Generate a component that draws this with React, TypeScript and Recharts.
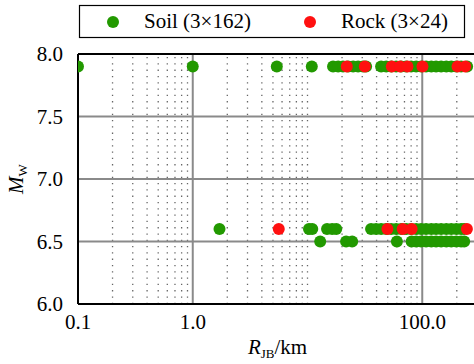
import * as React from "react";
import {
  ScatterChart,
  Scatter,
  XAxis,
  YAxis,
  ReferenceLine,
} from "recharts";

const FONT = "Liberation Serif, Times New Roman, serif";
const FS = 21;
const GREEN = "#229900";
const RED = "#ff1010";

// R_JB (km), grouped by magnitude row
const soilAt79 = [
  0.1, 1.0, 5.4, 10.9, 16.7, 18.5, 20.4, 22.6, 25.0, 27.6, 30.5, 32.4, 43.8,
  48.5, 53.6, 59.2, 65.5, 72.4, 80.0, 88.5, 97.8, 108, 120, 132, 146, 162,
  179, 198, 218, 246,
];
const rockAt79 = [22.0, 31.6, 54.3, 64.2, 74.3, 100.4, 203, 237];
const soilAt66 = [
  1.71, 10.3, 11.0, 14.8, 16.4, 17.8, 35.8, 39.6, 43.8, 48.5, 53.6, 59.2,
  65.5, 72.4, 80.0, 88.5, 97.8, 108, 120, 132, 146, 162, 179, 198, 218, 232,
];
const rockAt66 = [5.62, 49.7, 67.5, 80.8, 245];
const soilAt65 = [
  12.9, 21.7, 24.5, 60.1, 80.8, 88.5, 97.8, 108, 120, 132, 146, 162, 179, 198,
  218, 232,
];

const xTicks = [0.1, 1, 100];
const xMajor = [1, 100];
const xMinor = [
  0.2, 0.3, 0.4, 0.5, 0.6, 0.7, 0.8, 0.9, 2, 3, 4, 5, 6, 7, 8, 9, 10, 20, 30,
  40, 50, 60, 70, 80, 90, 200,
];
const yTicks = [6.0, 6.5, 7.0, 7.5, 8.0];
const yGrid = [6.5, 7.0, 7.5];

const soil = [
  ...soilAt79.map((x) => ({ x, y: 7.9 })),
  ...soilAt66.map((x) => ({ x, y: 6.6 })),
  ...soilAt65.map((x) => ({ x, y: 6.5 })),
];
const rock = [
  ...rockAt79.map((x) => ({ x, y: 7.9 })),
  ...rockAt66.map((x) => ({ x, y: 6.6 })),
];

const dot = (color: string) => (p: any) => (
  <circle cx={p.cx} cy={p.cy} r={6} fill={color} />
);

const XLabel = (props: any) => {
  const vb = props.viewBox;
  return (
    <text
      x={vb.x + vb.width / 2}
      y={354}
      textAnchor="middle"
      fontFamily={FONT}
      fontSize={FS}
      fill="#000"
    >
      <tspan fontStyle="italic">R</tspan>
      <tspan fontSize={13} dy={4}>
        JB
      </tspan>
      <tspan dy={-4}>/km</tspan>
    </text>
  );
};

const YLabel = () => (
  <text
    x={23}
    y={179}
    transform="rotate(-90, 23, 179)"
    textAnchor="middle"
    fontFamily={FONT}
    fontSize={FS}
    fill="#000"
  >
    <tspan fontStyle="italic">M</tspan>
    <tspan fontSize={13} dy={4}>
      W
    </tspan>
  </text>
);

export default function App() {
  return (
    <div
      style={{
        position: "absolute",
        left: 0,
        top: 0,
        width: 474,
        height: 364,
        overflow: "hidden",
        background: "#fff",
        fontFamily: FONT,
      }}
    >
      <ScatterChart
        width={478}
        height={364}
        margin={{ top: 54, right: 1, bottom: 0, left: 0 }}
      >
        {xMinor.map((v) => (
          <ReferenceLine
            key={"m" + v}
            x={v}
            stroke="#666"
            strokeWidth={1.3}
            strokeDasharray="1.3 5"
          />
        ))}
        {yGrid.map((v) => (
          <ReferenceLine key={"y" + v} y={v} stroke="#8a8a8a" strokeWidth={2} />
        ))}
        {xMajor.map((v) => (
          <ReferenceLine key={"M" + v} x={v} stroke="#8a8a8a" strokeWidth={2} />
        ))}
        <ReferenceLine y={8} stroke="#000" strokeWidth={2} />
        <XAxis
          type="number"
          dataKey="x"
          scale="log"
          domain={[0.1, 300]}
          allowDataOverflow
          ticks={xTicks}
          interval={0}
          height={60}
          tickSize={0}
          tickMargin={10}
          axisLine={{ stroke: "#000", strokeWidth: 2 }}
          tick={{ fill: "#000", fontSize: FS, fontFamily: FONT }}
          tickFormatter={(v: number) => (v < 1 ? String(v) : v.toFixed(1))}
          label={<XLabel />}
        />
        <YAxis
          type="number"
          dataKey="y"
          domain={[6, 8]}
          ticks={yTicks}
          interval={0}
          width={78}
          tickSize={0}
          tickMargin={15}
          axisLine={{ stroke: "#000", strokeWidth: 2 }}
          tick={{ fill: "#000", fontSize: FS, fontFamily: FONT }}
          tickFormatter={(v: number) => v.toFixed(1)}
          label={<YLabel />}
        />
        <Scatter
          data={soil}
          fill={GREEN}
          shape={dot(GREEN)}
          isAnimationActive={false}
        />
        <Scatter
          data={rock}
          fill={RED}
          shape={dot(RED)}
          isAnimationActive={false}
        />
      </ScatterChart>
      <svg
        width={474}
        height={42}
        style={{ position: "absolute", left: 0, top: 0 }}
      >
        <rect
          x={79.5}
          y={5.5}
          width={385}
          height={32}
          fill="#fff"
          stroke="#000"
          strokeWidth={1.2}
        />
        <circle cx={113} cy={22} r={6} fill={GREEN} />
        <circle cx={310} cy={22} r={6} fill={RED} />
        <text x={144} y={28} fontFamily={FONT} fontSize={FS} fill="#000">
          Soil (3×162)
        </text>
        <text x={341} y={28} fontFamily={FONT} fontSize={FS} fill="#000">
          Rock (3×24)
        </text>
      </svg>
    </div>
  );
}
